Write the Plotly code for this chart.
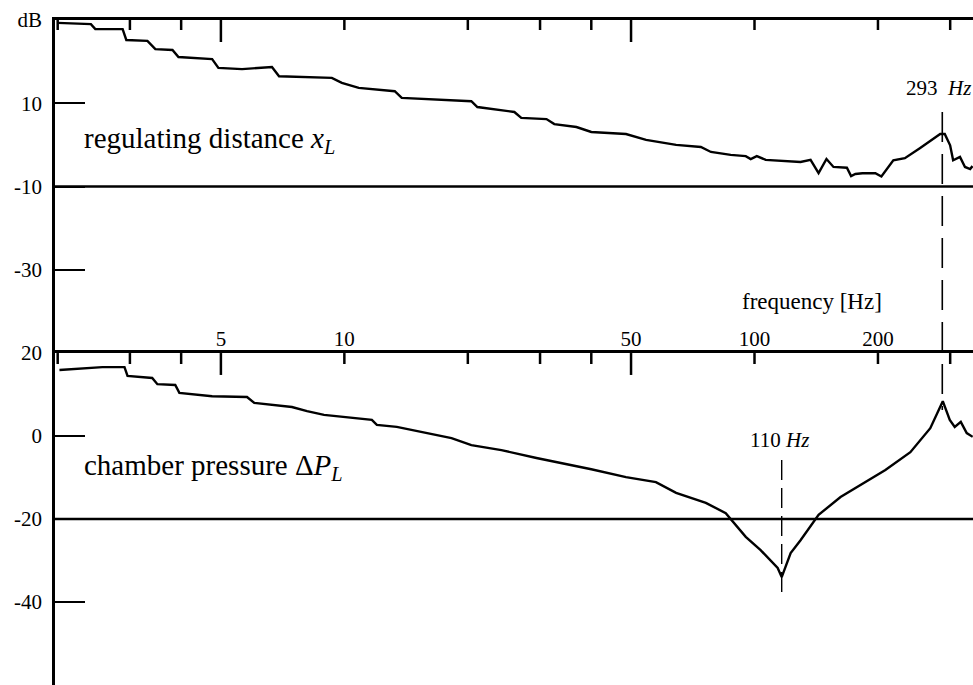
import math
import plotly.graph_objects as go

# ---------------- data ----------------
# upper panel: regulating distance x_L   (frequency in Hz, magnitude in dB)
freq_x = [2.0, 2.41, 2.47, 2.88, 2.94, 3.31, 3.46, 3.81, 3.94, 4.76, 4.93, 5.63, 6.66, 6.93,
          9.32, 9.86, 10.84, 13.27, 13.80, 20.4, 21.1, 25.97, 27.0, 31.1, 32.5, 36.8, 40.0,
          48.6, 54.4, 64.4, 74.0, 78.3, 87.5, 95.2, 97.9, 101.3, 106.5, 129.5, 137.0, 143.3,
          149.8, 155.8, 168.0, 172.0, 176.2, 183.3, 197.1, 203.9, 218.0, 232.6, 253.0, 275.2,
          283.6, 291.0, 299.9, 305.0, 317.0, 326.0, 335.6, 340.0]
db_x = [29.3, 29.0, 27.8, 27.8, 25.2, 25.0, 23.0, 22.8, 21.1, 20.6, 18.5, 18.2, 18.7, 16.5,
        16.1, 14.9, 13.7, 12.9, 11.3, 10.5, 9.1, 7.9, 6.5, 6.2, 5.0, 4.3, 3.1,
        2.6, 1.2, 0.0, -0.5, -1.7, -2.4, -2.7, -3.4, -2.7, -3.6, -4.1, -3.6, -6.8,
        -3.4, -5.3, -5.5, -7.5, -7.0, -6.8, -6.8, -7.6, -3.7, -3.2, -0.8, 1.7,
        2.6, 2.6, -0.1, -3.7, -2.9, -5.3, -5.8, -5.1]

# lower panel: chamber pressure dP_L
freq_p = [2.02, 2.43, 2.57, 2.91, 2.96, 3.40, 3.50, 3.87, 3.96, 4.76, 5.79, 6.03, 7.45, 8.11,
          8.92, 11.67, 12.0, 13.42, 15.43, 18.25, 20.4, 24.15, 29.4, 33.8, 40.0, 48.6, 57.5,
          64.4, 76.1, 85.1, 90.0, 95.2, 103.5, 109.5, 113.9, 116.5, 119.1, 122.5, 129.5,
          143.3, 162.1, 181.2, 208.5, 239.9, 268.3, 287.8, 299.3, 307.8, 318.4, 329.2, 340.4]
db_p = [15.9, 16.4, 16.6, 16.6, 14.5, 14.0, 12.5, 12.3, 10.4, 9.6, 9.4, 8.0, 7.0, 6.0,
        5.1, 3.9, 2.7, 2.2, 1.0, -0.5, -2.2, -3.4, -5.3, -6.5, -8.0, -9.9, -11.1,
        -13.7, -16.1, -18.6, -21.4, -24.3, -27.5, -29.9, -31.8, -34.0, -31.3, -28.2, -25.1,
        -19.0, -14.7, -11.8, -8.2, -3.9, 1.9, 8.4, 3.9, 2.2, 3.4, 0.7, -0.2]

# axes
freq_range = [1.97, 341.0]
x_label_vals = [5, 10, 50, 100, 200]
x_label_text = ["5", "10", "50", "100", "200"]
x_long_ticks = [5, 50]
x_short_ticks = [2, 3, 4, 10, 20, 30, 40, 100, 200, 300]
y_upper_vals = [30, 10, -10, -30]
y_upper_text = ["dB", "10", "-10", "-30"]
y_lower_vals = [20, 0, -20, -40]
y_lower_text = ["20", "0", "-20", "-40"]
upper_range = [-50, 30]
lower_range = [-60, 20]
upper_ref_db = -10
lower_ref_db = -20

# marked resonances: (frequency where the dashed line sits, label)
res_x_freq = 287.0
res_x_label = "293&nbsp;&nbsp;<i>Hz</i>"
res_p_freq = 116.5
res_p_label = "110 <i>Hz</i>"

# ---------------- figure ----------------
FONT = "Liberation Serif"
W, H = 973, 685
ML, MT = 55, 20
split = 0.4992
panel_px = (H - MT) * (1 - split)          # pixel height of each panel


def tick_marks(vals, top, span, start_px, end_px):
    """vertical tick segments hanging down from the top edge of a panel"""
    k = span / panel_px
    xs, ys = [], []
    for v in vals:
        xs += [v, v, None]
        ys += [top - k * start_px, top - k * end_px, None]
    return xs, ys


fig = go.Figure()
fig.add_trace(go.Scatter(x=freq_x, y=db_x, mode="lines", xaxis="x", yaxis="y",
                         line=dict(color="black", width=2.4), hoverinfo="skip",
                         showlegend=False))
fig.add_trace(go.Scatter(x=freq_p, y=db_p, mode="lines", xaxis="x2", yaxis="y2",
                         line=dict(color="black", width=2.4), hoverinfo="skip",
                         showlegend=False))

up_span = upper_range[1] - upper_range[0]
lo_span = lower_range[1] - lower_range[0]
for vals, s, e, ax, ay, top, span in (
        (x_short_ticks, 0, 10, "x", "y", upper_range[1], up_span),
        (x_long_ticks, 0, 22, "x", "y", upper_range[1], up_span),
        (x_short_ticks, 0, 11, "x2", "y2", lower_range[1], lo_span),
        (x_long_ticks, 0, 22, "x2", "y2", lower_range[1], lo_span)):
    tx, ty = tick_marks(vals, top, span, s, e)
    fig.add_trace(go.Scatter(x=tx, y=ty, mode="lines", xaxis=ax, yaxis=ay,
                             line=dict(color="black", width=2.5), hoverinfo="skip",
                             showlegend=False, cliponaxis=False, connectgaps=False))

xr = [math.log10(freq_range[0]), math.log10(freq_range[1])]
common_x = dict(type="log", range=xr, side="top", showgrid=False, zeroline=False,
                linecolor="black", showline=True, linewidth=2.5, ticks="",
                tickmode="array")

fig.update_layout(
    width=W, height=H,
    margin=dict(l=ML, r=0, t=MT, b=0, pad=0),
    paper_bgcolor="white", plot_bgcolor="white",
    font=dict(family=FONT, color="black", size=21),
    xaxis=dict(**common_x, domain=[0, 1], anchor="y", tickvals=[], showticklabels=False),
    yaxis=dict(domain=[split, 1], range=upper_range, anchor="x", showline=True,
               linecolor="black", linewidth=2.5, showgrid=False, zeroline=False,
               ticks="inside", ticklen=30, tickwidth=2, tickcolor="black",
               tickmode="array", tickvals=y_upper_vals, ticktext=y_upper_text,
               ticklabelstandoff=6, tickfont=dict(size=21)),
    xaxis2=dict(**common_x, domain=[0, 1], anchor="y2",
                tickvals=x_label_vals, ticktext=x_label_text,
                tickfont=dict(size=21), ticklabelstandoff=-4),
    yaxis2=dict(domain=[0, split], range=lower_range, anchor="x2", showline=True,
                linecolor="black", linewidth=2.5, showgrid=False, zeroline=False,
                ticks="inside", ticklen=30, tickwidth=2, tickcolor="black",
                tickmode="array", tickvals=y_lower_vals, ticktext=y_lower_text,
                ticklabelstandoff=6, tickfont=dict(size=21)),
)


def py(ypx):
    """pixel row -> paper fraction of the plot area"""
    return (H - ypx) / (H - MT)


def px(xpx):
    return (xpx - ML) / (W - ML)


shapes = [
    dict(type="line", xref="x domain", yref="y", x0=0, x1=1,
         y0=upper_ref_db, y1=upper_ref_db, line=dict(color="black", width=2.5)),
    dict(type="line", xref="x2 domain", yref="y2", x0=0, x1=1,
         y0=lower_ref_db, y1=lower_ref_db, line=dict(color="black", width=2.5)),
    dict(type="line", xref="x", yref="paper",
         x0=res_x_freq, x1=res_x_freq, y0=py(112), y1=py(410),
         line=dict(color="black", width=1.6, dash="30px,12px")),
    dict(type="line", xref="x2", yref="paper",
         x0=res_p_freq, x1=res_p_freq, y0=py(460), y1=py(592),
         line=dict(color="black", width=1.4, dash="20px,8px")),
]
fig.update_layout(shapes=shapes)

ann = [
    dict(text="regulating distance <i>x</i><sub><i>L</i></sub>", x=px(82), y=py(140),
         xanchor="left", yanchor="middle", font=dict(size=29)),
    dict(text="chamber pressure \u0394<i>P</i><sub><i>L</i></sub>", x=px(82), y=py(467),
         xanchor="left", yanchor="middle", font=dict(size=29)),
    dict(text="frequency [Hz]", x=px(812), y=py(302), xanchor="center",
         yanchor="middle", font=dict(size=23)),
    dict(text=res_x_label, x=px(973), y=py(88), xanchor="right", yanchor="middle",
         font=dict(size=21)),
    dict(text=res_p_label, x=px(779), y=py(440), xanchor="center", yanchor="middle",
         font=dict(size=21)),
]
for a in ann:
    a.update(xref="paper", yref="paper", showarrow=False)
fig.update_layout(annotations=ann)

fig.write_html("out.html")
